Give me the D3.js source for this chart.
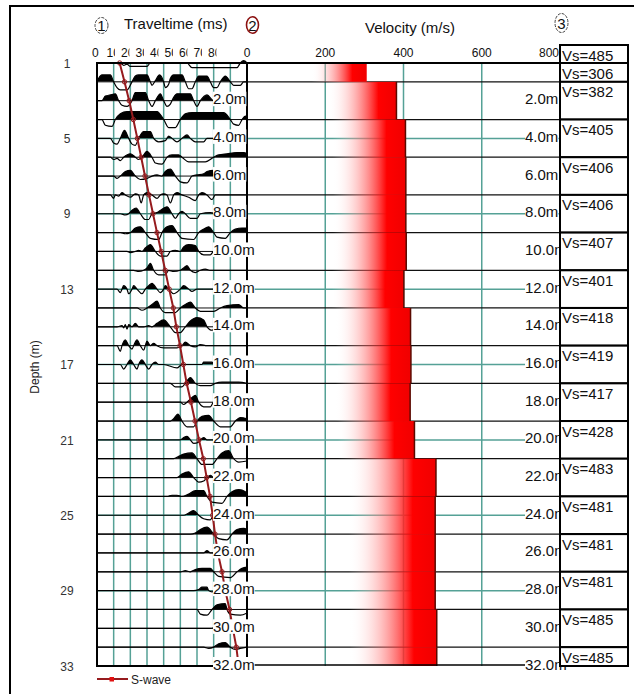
<!DOCTYPE html>
<html>
<head>
<meta charset="utf-8">
<script src="https://cdn.jsdelivr.net/npm/d3@7"></script>
<style>
  body { margin: 0; background: #fff; }
  svg { display: block; font-family: "Liberation Sans", Arial, sans-serif; }
</style>
</head>
<body>
<svg id="chart" width="634" height="694"></svg>
<script>
// ---- data ----
const depthTicks = [1, 5, 9, 13, 17, 21, 25, 29, 33];          // trace numbers on the left
const timeTickLabels = ["0", "10", "20", "30", "40", "50", "60", "70", "80"];
const timeGrid = [10, 20, 30, 40, 50, 60, 70, 80];
const velocityTicks = [0, 200, 400, 600, 800];
const velocityGrid = [200, 400, 600];
const depthMarks = [2, 4, 6, 8, 10, 12, 14, 16, 18, 20, 22, 24, 26, 28, 30, 32];
const gridDepths = [4, 8, 12, 16, 20, 24, 28];
const layerTop    = [0, 1, 3, 5, 7, 9, 11, 13, 15, 17, 19, 21, 23, 25, 27, 29, 31];
const layerBottom = [1, 3, 5, 7, 9, 11, 13, 15, 17, 19, 21, 23, 25, 27, 29, 31, 32];
const layerVs     = [306, 382, 405, 406, 406, 407, 401, 418, 419, 417, 428, 483, 481, 481, 481, 485, 485];
const headerVs = 485;
// S-wave first arrival (ms) for traces at depth 0..32 m
const arrivalTimes = [13.6, 16.5, 19.3, 21.8, 24.2, 26.5, 28.8, 31.2, 33.6, 36.0, 38.5, 40.9, 43.3,
  45.8, 47.6, 49.8, 51.8, 53.8, 56.4, 58.8, 61.2, 63.8, 65.8, 67.8, 69.4, 70.8, 72.5, 75.0, 77.0,
  79.5, 81.5, 83.6, 85.0];
// wiggle traces, one per metre: [time ms, amplitude px (+ up)]
const traces = [
  [[0,0],[14,0],[16,-2],[18,-1],[20,-3],[30,-3],[32,0],[54,0],[57,-4],[84,-4],[86,0],[88,2],[90,0]],
  [[0,0],[1,3],[3,6],[8,6],[10,0],[12,-5],[14,-7],[18,-7],[21,0],[23,5],[25,6],[30,6],[32,0],[33,-3],[35,1],[37.5,6],[40,0],[41,-5],[43,-2],[44,3],[46,6],[51,6],[53,0],[55,-6],[57,-6],[59,0],[61,5],[66,5],[68,0],[70,-5],[72,-5],[74,0],[77,5],[80,0],[82,-3],[86,-3],[88,0],[90,0]],
  [[0,0],[3,0],[5,4],[8,5],[11,6],[13,0],[15,-4],[18,-5],[21,0],[23,7],[29,7],[31,0],[33,-5],[35,0],[38,6],[40,0],[42,-5],[44,-3],[46,3],[48,6],[56,6],[58,0],[60,-5],[62,0],[66,5],[70,0],[90,0]],
  [[0,0],[3,0],[5,-5],[9,-6],[11,0],[14,5],[18,7],[36,7],[40,0],[43,-7],[47,-7],[50,0],[53,5],[57,6],[76,6],[80,0],[82,-4],[85,-5],[87,0],[89,3],[90,2]],
  [[0,0],[8,0],[10,-4],[12,-5],[14,0],[16.5,7],[19,0],[21,-5],[23,-6],[25,0],[28,6],[32,6],[34,0],[37,-3],[41,-2],[43,2],[45,0],[48,-3],[51,0],[54,3],[56,0],[59,-3],[64,-3],[66,0],[90,0]],
  [[0,0],[8,0],[10,-2],[12,-1],[14,-3],[16,0],[20,3],[23,0],[25,-2],[27,0],[30,5],[33,0],[35,-5],[39,-6],[42,0],[45,2],[49,2],[51,0],[55,-4],[65,-4],[70,0],[73,2],[78,3],[84,4],[88,4],[90,3]],
  [[0,0],[10,0],[12,-2],[14,0],[17,4],[20,5],[23,0],[26,-3],[30,-2],[33,0],[36,1],[39,0],[41,4],[44,6],[47,0],[50,-5],[54,-6],[57,0],[60,1],[64,2],[66,4],[70,5],[71,0],[90,0]],
  [[0,0],[8,0],[10,-3],[11,0],[13,-1],[15,2],[17,0],[20,-2],[23,1],[25,0],[26.5,-7],[28,0],[30,2],[33,0],[36,-3],[38,0],[40,1],[42,0],[44,-7],[46,0],[48,2],[51,0],[55,-2],[59,-5],[61,0],[63,2],[66,0],[69,-4],[71,0],[90,0]],
  [[0,0],[14,0],[17,-1],[19,0],[21,3],[23.5,5],[26,0],[29,-5],[31,-5],[33,0],[36,1],[39,4],[42,6],[45,0],[47,-4],[49,0],[51,2],[53,0],[56,-4],[60,-4],[62,0],[68,1],[72,0],[90,0]],
  [[0,0],[14,0],[17,-1],[20,0],[23,4],[26,5],[29,0],[32,-5],[37,-6],[39,0],[42,5],[45,6],[48,0],[51,-5],[58,-6],[61,0],[64,3],[67,5],[70,0],[72,-4],[77,-5],[80,0],[83,3],[87,4],[90,4]],
  [[0,0],[18,0],[20,-1],[23,0],[25,1],[27,0],[29,3],[32,6],[35,0],[38,-4],[42,-4],[44,0],[47,1],[50,0],[52,4],[55,6],[59,5],[61,0],[64,-3],[68,-3],[70,0],[90,0]],
  [[0,0],[22,0],[25,-1],[28,0],[30,2],[32,6],[34,0],[37,-4],[41,-4],[43,0],[46,-1],[50,0],[52,2],[54,4],[56,0],[59,-2],[62,0],[65,1],[68,0],[90,0]],
  [[0,0],[12,0],[14,-3],[15,0],[16,3],[18,0],[19,-4],[21,0],[22,3],[24,0],[27,-4],[29,0],[31,3],[33,5],[36,0],[38,-3],[40,0],[41,3],[43,0],[46,-4],[50,0],[52,3],[55,0],[57,-2],[60,0],[90,0]],
  [[0,0],[24,0],[27,-2],[30,0],[33,3],[36,6],[38,0],[41,-4],[47,-4],[50,0],[53,3],[56,5],[59,0],[62,-3],[70,-3],[74,0],[78,2],[85,3],[88,0],[90,0]],
  [[0,0],[12,0],[15,1],[16,-1],[17,2],[18,-2],[19,2],[21,0],[23,3],[25,0],[28,0],[31,1],[33,0],[36,3],[40,6],[44,0],[47,-5],[50,-5],[53,0],[56,5],[60,8],[64,6],[66,0],[69,-3],[72,0],[90,0]],
  [[0,0],[12,0],[14,-5],[15,0],[17,5],[19,0],[21,-3],[22,0],[24,5],[26,0],[28,-4],[29,0],[30,4],[32,0],[34,2],[36,0],[40,-2],[48,-2],[51,0],[53,3],[56,0],[59,-1],[62,1],[66,0],[90,0]],
  [[0,0],[14,0],[16,-4],[18,0],[20,4],[22,0],[24,-4],[25,0],[27,4],[29,0],[31,-4],[33,0],[35,2],[37,0],[40,0],[48,-3],[51,0],[54,0],[63,0],[64,2],[69,2],[70,0],[90,0]],
  [[0,0],[44,0],[47,-3],[51,-3],[53,0],[56,5],[59,0],[62,-2],[68,-2],[71,0],[75,1],[85,1],[90,0]],
  [[0,0],[50,0],[52,-2],[54,0],[57,4],[59,6],[61,0],[64,-4],[68,-4],[70,0],[90,0]],
  [[0,0],[44,0],[46,2],[48.5,6],[51,0],[54,-5],[58,-5],[60,0],[63,4],[67,5],[70,0],[74,-5],[80,-5],[83,0],[86,3],[90,2]],
  [[0,0],[50,0],[52,2],[54,3],[56,0],[58,-3],[61,-2],[62,0],[64,2],[66,0],[90,0]],
  [[0,0],[46,0],[49,2],[52,4],[57,5],[60,0],[63,-5],[69,-5],[72,0],[75,5],[79,7],[82,0],[85,-3],[90,-2]],
  [[0,0],[48,0],[51,3],[55,5],[58,0],[61,-4],[64,-3],[66,0],[68,2],[70,0],[90,0]],
  [[0,0],[42,0],[45,1],[48,1],[51,0],[55,2],[59,5],[64,5],[66,0],[69,-5],[75,-6],[78,0],[81,4],[85,6],[89,4],[90,2]],
  [[0,0],[52,0],[55,2],[58,4],[61,0],[64,-3],[68,-4],[70,0],[90,0]],
  [[0,0],[56,0],[59,1],[62,4],[66,6],[70,0],[73,-4],[78,-5],[81,0],[84,4],[88,5],[90,4]],
  [[0,0],[64,0],[66,2],[68,0],[90,0]],
  [[0,0],[50,0],[53,1],[56,0],[59,2],[63,3],[68,3],[70,0],[73,-4],[80,-5],[84,0],[87,3],[90,4]],
  [[0,0],[58,0],[61,1],[63,3],[66,3],[67,0],[69,-1],[71,0],[90,0]],
  [[0,0],[60,0],[62,-4],[66,-5],[69,0],[72,4],[77,5],[78,0],[80,-4],[86,-5],[90,-3]],
  [[0,0],[68,0],[72,1],[75,0],[90,0]],
  [[0,0],[64,0],[67,-1],[70,0],[73,3],[77,4],[80,0],[83,-2],[86,-1],[90,0]],
  [[0,0],[90,0]]
];

// ---- scales ----
const x = d3.scaleLinear().domain([0, 90]).range([97, 247]);
const v = d3.scaleLinear().domain([0, 800]).range([247, 560]);
const y = d3.scaleLinear().domain([0, 32]).range([63, 666]);
const yTrace = d3.scaleLinear().domain([1, 33]).range([63, 666]);
const amp = d3.scaleLinear().domain([0, 1]).range([0, 1.15]);   // wiggle gain (px per unit)
const tickPos = d3.scalePoint().domain(timeTickLabels).range([92, 208]);

const teal = "#55a196";
const darkRed = "#961b1e";

const svg = d3.select("#chart");
const defs = svg.append("defs");

const grad = defs.append("linearGradient").attr("id", "velGrad");
grad.append("stop").attr("offset", 0).attr("stop-color", "#fff").attr("stop-opacity", 0);
grad.append("stop").attr("offset", 0.54).attr("stop-color", "#fff").attr("stop-opacity", 0);
grad.append("stop").attr("offset", 0.88).attr("stop-color", "#ff0000");
grad.append("stop").attr("offset", 1).attr("stop-color", "#f00000");

// outer frame
svg.append("path").attr("d", "M10,694V6H634")
  .attr("fill", "none").attr("stroke", "#000").attr("stroke-width", 2);

// gridlines
const grid = svg.append("g");
grid.selectAll(".tg").data(timeGrid).join("line")
  .attr("x1", d => x(d)).attr("x2", d => x(d)).attr("y1", y(0)).attr("y2", y(32))
  .attr("stroke", teal).attr("stroke-width", 1.5);
grid.selectAll(".vg").data(velocityGrid).join("line")
  .attr("x1", d => v(d)).attr("x2", d => v(d)).attr("y1", y(0)).attr("y2", y(32))
  .attr("stroke", teal).attr("stroke-width", 1.5);

// one horizontal line per trace in the traveltime panel
grid.selectAll(".th").data(d3.range(1, 32)).join("line")
  .attr("x1", x(0)).attr("x2", x(90)).attr("y1", d => y(d)).attr("y2", d => y(d))
  .attr("stroke", d => d % 4 === 0 ? teal : "#111").attr("stroke-width", d => d % 4 === 0 ? 1.5 : 1);

// velocity panel: depth grid + layer boundaries
grid.selectAll(".vh").data(gridDepths).join("line")
  .attr("x1", v(0)).attr("x2", v(800)).attr("y1", d => y(d)).attr("y2", d => y(d))
  .attr("stroke", teal).attr("stroke-width", 1.5);
grid.selectAll(".lb").data(layerBottom.slice(0, -1)).join("line")
  .attr("x1", v(0)).attr("x2", v(800)).attr("y1", d => y(d)).attr("y2", d => y(d))
  .attr("stroke", "#111").attr("stroke-width", 1.2);

// velocity bars
const layers = layerVs.map((vs, i) => ({ vs, top: layerTop[i], bottom: layerBottom[i] }));
const bars = svg.append("g");
bars.selectAll("rect").data(layers).join("rect")
  .attr("x", v(0)).attr("y", d => y(d.top))
  .attr("width", d => v(d.vs) - v(0)).attr("height", d => y(d.bottom) - y(d.top))
  .attr("fill", "url(#velGrad)");
bars.selectAll("line").data(layers.slice(1)).join("line")
  .attr("x1", d => v(d.vs)).attr("x2", d => v(d.vs))
  .attr("y1", d => y(d.top)).attr("y2", d => y(d.bottom))
  .attr("stroke", "#5a0a00").attr("stroke-width", 1.5);

// wiggle traces
defs.append("clipPath").attr("id", "panelClip").append("rect")
  .attr("x", x(0)).attr("y", y(0) - 3).attr("width", x(90) - x(0) + 3).attr("height", y(32) - y(0) + 4);
const tr = svg.append("g").attr("clip-path", "url(#panelClip)");
traces.forEach((pts, i) => {
  const base = y(i);
  defs.append("clipPath").attr("id", "up" + i).append("rect")
    .attr("x", x(0)).attr("y", base - 20).attr("width", 160).attr("height", 20);
  const area = d3.area().x(d => x(d[0])).y0(base).y1(d => base - amp(d[1])).curve(d3.curveMonotoneX);
  const line = d3.line().x(d => x(d[0])).y(d => base - amp(d[1])).curve(d3.curveMonotoneX);
  tr.append("path").attr("d", area(pts)).attr("fill", "#000").attr("clip-path", `url(#up${i})`);
  tr.append("path").attr("d", line(pts)).attr("fill", "none").attr("stroke", "#000").attr("stroke-width", 1.2);
});

// S-wave picks
const picks = arrivalTimes.map((t, i) => [x(t), y(i)]);
svg.append("path").attr("d", d3.line()(picks))
  .attr("fill", "none").attr("stroke", darkRed).attr("stroke-width", 2);
svg.append("g").selectAll("circle").data(picks).join("circle")
  .attr("cx", d => d[0]).attr("cy", d => d[1]).attr("r", 2.2)
  .attr("fill", "none").attr("stroke", darkRed).attr("stroke-width", 1);

// panel borders
svg.append("rect").attr("x", x(0)).attr("y", y(0)).attr("width", x(90) - x(0)).attr("height", y(32) - y(0))
  .attr("fill", "none").attr("stroke", "#000").attr("stroke-width", 2);
svg.append("line").attr("x1", v(0)).attr("x2", v(800)).attr("y1", y(0)).attr("y2", y(0))
  .attr("stroke", "#000").attr("stroke-width", 2);
svg.append("line").attr("x1", v(0)).attr("x2", v(800)).attr("y1", y(32) - 1).attr("y2", y(32) - 1)
  .attr("stroke", "#000").attr("stroke-width", 1.5);

// depth labels with white background
function bgLabel(g, px, py, txt) {
  const grp = g.append("g");
  const r = grp.append("rect").attr("fill", "#fff");
  const t = grp.append("text").attr("x", px).attr("y", py).attr("font-size", 15).attr("fill", "#111").text(txt);
  const b = t.node().getBBox();
  r.attr("x", b.x).attr("y", b.y + 1.5).attr("width", b.width).attr("height", b.height - 2.5);
}
const lab = svg.append("g");
depthMarks.forEach(d => {
  bgLabel(lab, 213, y(d) + 3.5, d.toFixed(1) + "m");
  bgLabel(lab, 525, y(d) + 3.5, d.toFixed(1) + "m");
});

// velocity tick labels (the last one ends against the Vs column)
svg.append("g").selectAll("text").data(velocityTicks).join("text")
  .attr("x", d => d === 800 ? v(d) - 1 : v(d)).attr("y", 57)
  .attr("text-anchor", d => d === 800 ? "end" : "middle")
  .attr("font-size", 12).attr("fill", "#111").text(d => d);

// Vs boxes
const vsBoxes = [{ vs: headerVs, top: 45, bottom: y(0) }].concat(
  layers.map(d => ({ vs: d.vs, top: y(d.top), bottom: y(d.bottom) })));
const box = svg.append("g").selectAll("g").data(vsBoxes).join("g");
box.append("rect").attr("x", 560).attr("y", d => d.top).attr("width", 68).attr("height", d => d.bottom - d.top)
  .attr("fill", "#fff").attr("stroke", "#000").attr("stroke-width", 2);
box.append("text").attr("x", 562).attr("y", d => d.top + 15.5).attr("font-size", 15).attr("fill", "#111")
  .text(d => "Vs=" + d.vs);

// traveltime tick labels, clipped like the original
const tl = svg.append("g");
timeTickLabels.forEach((l, i) => {
  defs.append("clipPath").attr("id", "tl" + i).append("rect")
    .attr("x", tickPos(l) - 1).attr("y", 40).attr("width", i === 0 ? 10 : 9.5).attr("height", 20);
  tl.append("text").attr("x", tickPos(l)).attr("y", 57).attr("font-size", 12).attr("fill", "#111")
    .attr("clip-path", `url(#tl${i})`).text(l);
});

// headers
const hdr = svg.append("g").attr("font-size", 15).attr("fill", "#111");
hdr.append("text").attr("x", 124).attr("y", 29).text("Traveltime (ms)");
hdr.append("text").attr("x", 365).attr("y", 33).text("Velocity (m/s)");
[{ n: "1", cx: 101.5, cy: 25.5, rx: 6.5, ry: 8, c: "#444", dash: "3,1.2", w: 1 },
 { n: "2", cx: 252.5, cy: 25, rx: 6, ry: 8.3, c: "#8b1010", dash: null, w: 1.6 },
 { n: "3", cx: 561.5, cy: 23, rx: 6.5, ry: 9.5, c: "#444", dash: "3,1.2", w: 1 }].forEach(e => {
  hdr.append("ellipse").attr("cx", e.cx).attr("cy", e.cy).attr("rx", e.rx).attr("ry", e.ry)
    .attr("fill", "none").attr("stroke", e.c).attr("stroke-width", e.w).attr("stroke-dasharray", e.dash);
  hdr.append("text").attr("x", e.cx).attr("y", e.cy + 5.5).attr("text-anchor", "middle").attr("font-size", 15).text(e.n);
});

// depth axis (trace numbers)
const ax = svg.append("g").attr("transform", "translate(67,0)")
  .call(d3.axisLeft(yTrace).tickValues(depthTicks).tickSize(0).tickPadding(0));
ax.select(".domain").remove();
ax.selectAll("text").attr("text-anchor", "middle").attr("x", 0).attr("dy", "0.35em")
  .attr("font-size", 12).attr("font-family", "inherit").attr("fill", "#333");
svg.append("text").attr("transform", "translate(39,367) rotate(-90)").attr("text-anchor", "middle")
  .attr("font-size", 12).attr("fill", "#222").text("Depth (m)");

// legend
const lg = svg.append("g");
lg.append("line").attr("x1", 97).attr("x2", 128).attr("y1", 679).attr("y2", 679)
  .attr("stroke", darkRed).attr("stroke-width", 2);
lg.append("rect").attr("x", 109.5).attr("y", 677).attr("width", 4.5).attr("height", 4.5).attr("fill", "#e01010");
lg.append("text").attr("x", 131).attr("y", 684).attr("font-size", 12).attr("fill", "#222").text("S-wave");
</script>
</body>
</html>
